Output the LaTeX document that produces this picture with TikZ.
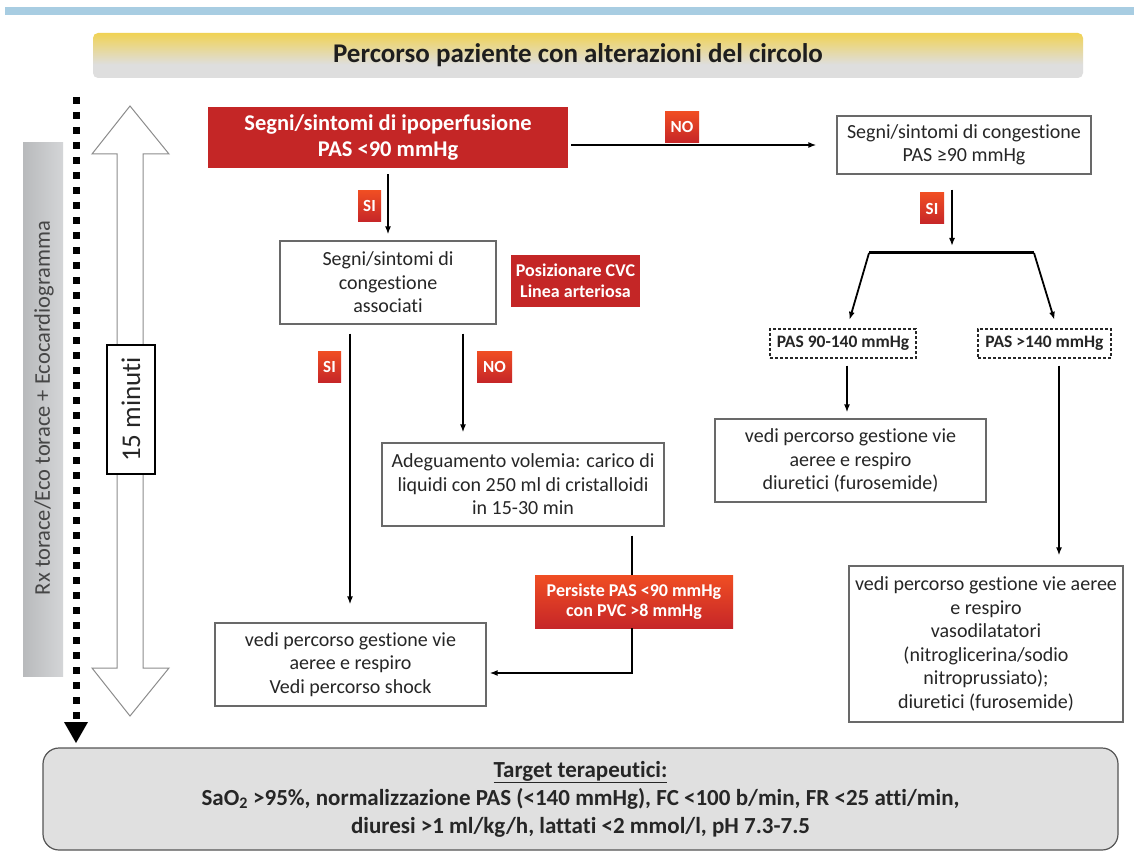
\documentclass[tikz,border=0pt]{standalone}
\usepackage{fontspec}
\setmainfont{Carlito}[Ligatures=NoCommon]
\usetikzlibrary{arrows.meta,calc}

\definecolor{boxred}{RGB}{196,38,38}
\definecolor{tagtop}{RGB}{240,78,35}
\definecolor{tagbot}{RGB}{198,38,40}
\definecolor{skyline}{RGB}{168,205,226}
\definecolor{titleyellow}{RGB}{244,208,56}
\definecolor{titlegray}{RGB}{222,222,222}
\definecolor{bardark}{RGB}{170,172,174}
\definecolor{barlight}{RGB}{226,227,229}
\definecolor{framegray}{RGB}{105,105,105}
\definecolor{ink}{RGB}{38,38,38}
\definecolor{targetfill}{RGB}{224,224,224}

\pgfdeclareverticalshading{titleshade}{100bp}{%
  color(0bp)=(titlegray); color(40bp)=(titlegray);
  color(82bp)=(titleyellow); color(100bp)=(titleyellow)}
\pgfdeclarehorizontalshading{barshade}{100bp}{%
  color(0bp)=(bardark); color(100bp)=(barlight)}

\tikzset{
  box/.style={draw=framegray, line width=1.2pt, fill=white, text=ink,
    align=center, inner sep=0pt, font=\fontsize{20}{23.5}\selectfont},
  redbox/.style={fill=boxred, text=white, align=center, inner sep=0pt,
    font=\bfseries\fontsize{22.5}{26}\selectfont},
  tag/.style={text=white, inner sep=0pt, minimum height=31,
    font=\bfseries\fontsize{17}{19}\selectfont,
    shading=axis, top color=tagtop, bottom color=tagbot},
  dashbox/.style={draw=ink, line width=1.1pt, dash pattern=on 3pt off 2pt,
    fill=white, text=ink, inner sep=0pt, minimum height=29,
    font=\bfseries\fontsize{17.5}{20}\selectfont},
  arr/.style={line width=1.8pt, -{Latex[length=8pt,width=6pt]}},
  flowline/.style={line width=2.8pt},
}

\begin{document}
\begin{tikzpicture}[x=1pt,y=-1pt]
\useasboundingbox (0,0) rectangle (1134,858);
\fill[white] (0,0) rectangle (1134,858);

% header band and title
\fill[skyline] (5,7) rectangle (1134,15);
\node[rounded corners=5pt, shading=titleshade, minimum width=990,
  minimum height=45, inner sep=0pt] (title) at (588,55.5) {};
\node[text={rgb,255:red,30;green,30;blue,30}, inner sep=0pt,
  font=\bfseries\fontsize{27}{30}\selectfont] (titletext) at (578,55.5)
  {Percorso paziente con alterazioni del circolo};

% left side: examinations bar, time line and time span
\node[shading=barshade, minimum width=40, minimum height=533, inner sep=0pt]
  (exambar) at (43,409.5) {};
\node[rotate=90, text={rgb,255:red,70;green,70;blue,70},
  font=\fontsize{22.5}{26}\selectfont] (examtext) at (44,408)
  {Rx torace/Eco torace + Ecocardiogramma};

\draw[line width=7pt, dash pattern=on 7pt off 8pt] (76,97) -- (76,722);
\fill (64,722) -- (88,722) -- (76,743) -- cycle;

\draw[draw={rgb,255:red,140;green,140;blue,140}, line width=1pt, fill=white]
  (130,106) -- (169,154) -- (143,154) -- (143,668) -- (169,668) -- (130,716)
  -- (92,668) -- (117,668) -- (117,154) -- (92,154) -- cycle;
\node[draw=black, line width=1.6pt, fill=white, rotate=90, minimum width=129,
  minimum height=48, inner sep=0pt, text=ink,
  font=\fontsize{27}{30}\selectfont] (span) at (131,409.5) {15 minuti};

% flow chart boxes
\node[redbox, minimum width=360, minimum height=61] (r1) at (388,137.5)
  {Segni/sintomi di ipoperfusione\\PAS <90 mmHg};
\node[box, minimum width=216, minimum height=83] (b2) at (388,282.5)
  {Segni/sintomi di\\congestione\\associati};
\node[redbox, minimum width=129, minimum height=52,
  font=\bfseries\fontsize{18}{21}\selectfont] (cvc) at (575.5,281)
  {Posizionare CVC\\Linea arteriosa};
\node[box, minimum width=254, minimum height=58] (b3) at (964,145)
  {Segni/sintomi di congestione\\PAS ≥90 mmHg};
\node[dashbox, minimum width=146] (d1) at (843,343.5) {PAS 90-140 mmHg};
\node[dashbox, minimum width=133] (d2) at (1044.5,343.5) {PAS >140 mmHg};
\node[box, minimum width=271, minimum height=83] (b7) at (850.5,460.5)
  {vedi percorso gestione vie\\aeree e respiro\\diuretici (furosemide)};
\node[box, minimum width=274, minimum height=156] (b8) at (986,644)
  {vedi percorso gestione vie aeree\\e respiro\\vasodilatatori\\
   (nitroglicerina/sodio\\nitroprussiato);\\diuretici (furosemide)};
\node[box, minimum width=282, minimum height=83] (b9) at (523,484.5)
  {Adeguamento volemia: carico di\\liquidi con 250 ml di cristalloidi\\
   in 15-30 min};
\node[tag, minimum width=198, minimum height=53, align=center,
  font=\bfseries\fontsize{18}{20}\selectfont] (per) at (634,601.5)
  {Persiste PAS <90 mmHg\\con PVC >8 mmHg};
\node[box, minimum width=271, minimum height=83] (b11) at (350.5,664.5)
  {vedi percorso gestione vie\\aeree e respiro\\Vedi percorso shock};

% connectors
\coordinate (barL) at (869,253);
\coordinate (barR) at (1034,253);
\coordinate (barM) at (952,253);

\draw[arr, shorten <=6pt, shorten >=6pt] (r1.south) -- (b2.north);
\draw[arr, shorten <=3pt, shorten >=20pt] (r1.east |- b3.west) -- (b3.west);
\draw[arr, shorten <=15pt, shorten >=7pt] (b3.south -| barM) -- (barM);
\draw[line width=3pt] (barL) -- (barR);
\draw[arr, shorten >=9pt] (barL) -- ([xshift=4pt]d1.north);
\draw[arr, shorten >=9pt] (barR) -- ([xshift=12.5pt]d2.north);
\draw[arr, shorten <=7pt, shorten >=6pt]
  ([xshift=4pt]d1.south) -- ([xshift=4pt]d1.south |- b7.north);
\draw[arr, shorten <=7pt, shorten >=10pt]
  ([xshift=14.5pt]d2.south) -- ([xshift=14.5pt]d2.south |- b8.north);
\draw[arr, shorten <=9pt, shorten >=18pt]
  ([xshift=-38pt]b2.south) -- ([xshift=-38pt]b2.south |- b11.north);
\draw[arr, shorten <=9pt, shorten >=10pt]
  ([xshift=75pt]b2.south) -- ([xshift=75pt]b2.south |- b9.north);
\draw[flowline, shorten <=9pt] ([xshift=109pt]b9.south) -- ([xshift=109pt]b9.south |- per.north);
\draw[flowline, -{Latex[length=8pt,width=6pt]}, shorten >=3pt]
  ([xshift=-2pt]per.south) |- ([yshift=-8.5pt]b11.east);

% answer tags
\node[tag, minimum width=23] (si1) at (369.5,206) {SI};
\node[tag, minimum width=34] (no1) at (682,127) {NO};
\node[tag, minimum width=24] (si2) at (932,208.5) {SI};
\node[tag, minimum width=23] (si3) at (329.5,366.5) {SI};
\node[tag, minimum width=35] (no2) at (494.5,366.5) {NO};

% therapeutic targets
\node[draw={rgb,255:red,85;green,85;blue,85}, line width=1.2pt, fill=targetfill,
  rounded corners=16pt, minimum width=1075, minimum height=102, inner sep=0pt,
  align=center, text=ink, font=\bfseries\fontsize{23}{28}\selectfont]
  (target) at (580.5,799)
  {\underline{Target terapeutici:}\\
   SaO\textsubscript{2} >95\%, normalizzazione PAS (<140 mmHg), FC <100 b/min, FR <25 atti/min,\\
   diuresi >1 ml/kg/h, lattati <2 mmol/l, pH 7.3-7.5};
\end{tikzpicture}
\end{document}
